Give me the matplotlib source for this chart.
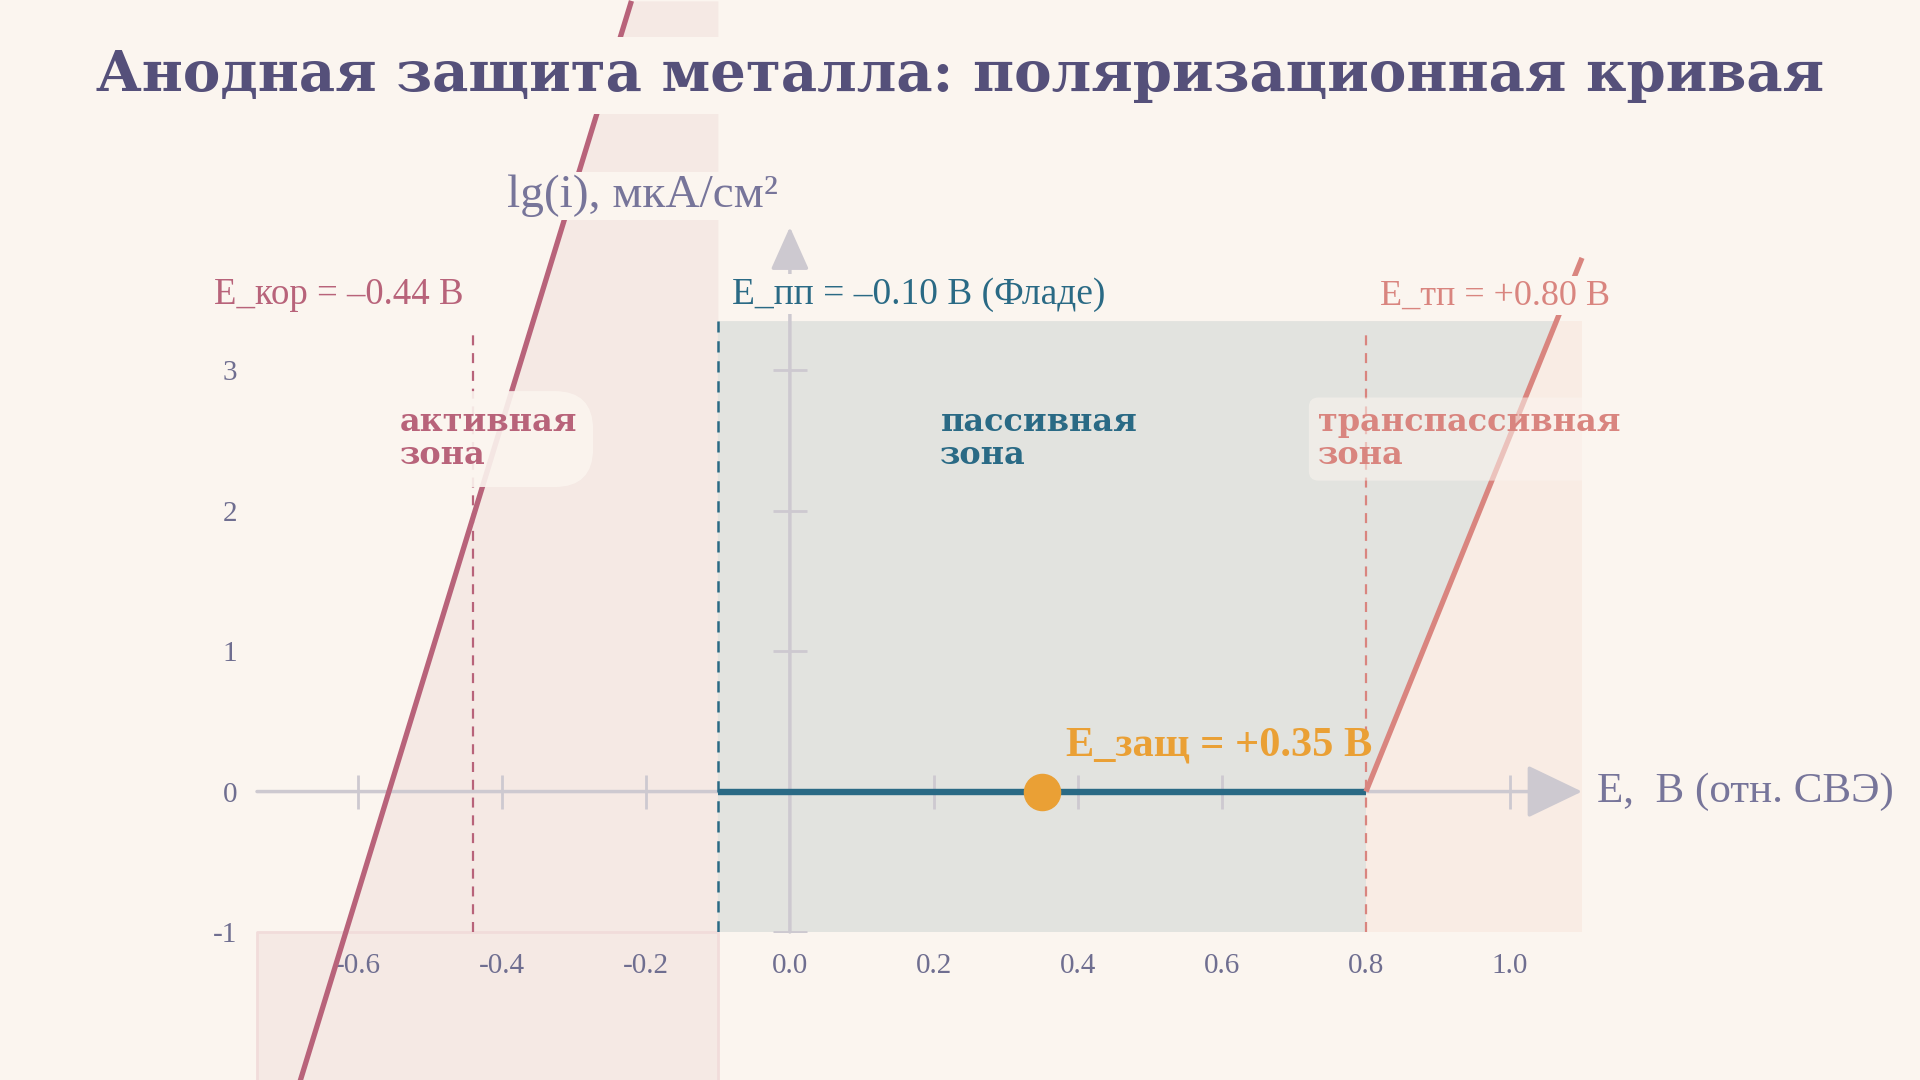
import numpy as np
import matplotlib
matplotlib.use("Agg")
import matplotlib.pyplot as plt

BG = "#fbf5ef"
TITLE_C = "#55507a"
AXIS_TXT = "#77759a"
TICK_TXT = "#6f6e90"
AXIS_LINE = "#cdc9d0"
ROSE = "#b8637a"
TEAL = "#2a6a85"
SALMON = "#d9857f"
ORANGE = "#eaa035"

# axis ranges (E in V, lg i)
x_min, x_max = -0.74, 1.10
y_min, y_max = -1.0, 4.02

x_ticks = [-0.6, -0.4, -0.2, 0.0, 0.2, 0.4, 0.6, 0.8, 1.0]
x_tick_labels = ["-0.6", "-0.4", "-0.2", "0.0", "0.2", "0.4", "0.6", "0.8", "1.0"]
y_ticks = [-1, 0, 1, 2, 3]
y_tick_labels = ["-1", "0", "1", "2", "3"]

# little cross marks on the drawn axes
axis_marks_x = [-0.6, -0.4, -0.2, 0.2, 0.4, 0.6, 1.0]
axis_marks_y = [-1, 1, 2, 3]

# key potentials
E_kor = -0.44
E_pp = -0.10
E_tp = 0.80
E_zash = 0.35

# polarization curve pieces
active_E = [-0.68, -0.22]
active_lg = [-2.06, 5.63]
passive_E = [-0.10, 0.80]
passive_lg = [0.0, 0.0]
transp_E = [0.80, 1.10]
transp_lg = [0.0, 3.80]

zone_top = 3.35
mark_top = 3.30

plt.rcParams["font.family"] = ["Liberation Serif", "DejaVu Serif"]

fig = plt.figure(figsize=(19.2, 10.8), dpi=100, facecolor=BG)
ax = fig.add_axes([257 / 1920, 148 / 1080, 1325 / 1920, 705 / 1080])
ax.set_facecolor("none")
ax.set_xlim(x_min, x_max)
ax.set_ylim(y_min, y_max)
for s in ax.spines.values():
    s.set_visible(False)

# zones
ax.fill_betweenx(active_lg, active_E, E_pp, color="#f5e9e4", lw=0, zorder=1, clip_on=False)
ax.fill_between([x_min, E_pp], active_lg[0], y_min, facecolor="#f5e9e4",
                edgecolor="#f1dcda", lw=2, zorder=1, clip_on=False)
ax.fill_between([E_tp, x_max], y_min, zone_top, color="#f9ece4", lw=0, zorder=1)
x_corner = np.interp(zone_top, transp_lg, transp_E)
ax.fill([E_pp, E_pp, x_corner, E_tp, E_tp], [y_min, zone_top, zone_top, 0, y_min],
        color="#e2e3df", lw=0, zorder=2)

# drawn axes with arrows
ax.annotate("", xy=(x_max, 0), xytext=(x_min, 0), annotation_clip=False, zorder=3,
            arrowprops=dict(arrowstyle="-|>,head_length=2.5,head_width=1.2",
                            mutation_scale=14, color=AXIS_LINE, lw=2.5, shrinkA=0, shrinkB=0))
ax.annotate("", xy=(0, y_max), xytext=(0, y_min), annotation_clip=False, zorder=3,
            arrowprops=dict(arrowstyle="-|>,head_length=1.9,head_width=0.85",
                            mutation_scale=14, color=AXIS_LINE, lw=2.5, shrinkA=0, shrinkB=0))
ax.plot(axis_marks_x, np.zeros(len(axis_marks_x)), ls="none", marker="|", ms=24,
        mew=2, color=AXIS_LINE, zorder=3)
ax.plot(np.zeros(len(axis_marks_y)), axis_marks_y, ls="none", marker="_", ms=24,
        mew=2, color=AXIS_LINE, zorder=3)

# boundary potentials
ax.plot([E_kor, E_kor], [y_min, mark_top], color=ROSE, lw=1.6, ls=(0, (4.5, 3.5)), zorder=4)
ax.plot([E_pp, E_pp], [y_min, zone_top], color=TEAL, lw=1.8, ls=(0, (4.5, 3.5)), zorder=4)
ax.plot([E_tp, E_tp], [y_min, mark_top], color=SALMON, lw=1.6, ls=(0, (4.5, 3.5)), zorder=4)

# curve
ax.plot(active_E, active_lg, color=ROSE, lw=3.8, zorder=5, clip_on=False, solid_capstyle="butt")
ax.plot(passive_E, passive_lg, color=TEAL, lw=4.6, zorder=5, solid_capstyle="butt")
ax.plot(transp_E, transp_lg, color=SALMON, lw=3.8, zorder=5, clip_on=False, solid_capstyle="butt")
ax.plot([E_zash], [0], marker="o", ms=26, color=ORANGE, zorder=6)

# ticks
ax.set_xticks(x_ticks, x_tick_labels)
ax.set_yticks(y_ticks, y_tick_labels)
ax.tick_params(length=0, labelsize=21, colors=TICK_TXT, pad=14)
ax.tick_params(axis="x", pad=15)

# labels
fig.text(0.5, 0.93, "Анодная защита металла: поляризационная кривая", ha="center", va="center",
         fontsize=40.5, fontweight="bold", family=["DejaVu Serif"], color=TITLE_C, zorder=10,
         bbox=dict(facecolor=BG, edgecolor="none", pad=8))
ax.text(-0.017, 4.24, "lg(i), мкА/см²", ha="right", va="center", fontsize=34, color=AXIS_TXT,
        zorder=10, bbox=dict(facecolor=BG, edgecolor="none", pad=2))
ax.text(1.121, 0.0, "E,  B (отн. СВЭ)", ha="left", va="center", fontsize=31, color=AXIS_TXT, zorder=10)

ax.text(-0.80, 3.54, "E_кор = –0.44 B", ha="left", va="center", fontsize=26.5, color=ROSE, zorder=10,
        bbox=dict(facecolor=BG, edgecolor="none", pad=2))
ax.text(-0.08, 3.54, "E_пп = –0.10 B (Фладе)", ha="left", va="center", fontsize=27, color=TEAL, zorder=10,
        bbox=dict(facecolor=BG, edgecolor="none", pad=2))
ax.text(0.82, 3.53, "E_тп = +0.80 B", ha="left", va="center", fontsize=26, color=SALMON, zorder=10,
        bbox=dict(facecolor=BG, edgecolor="none", pad=2))

zone_kw = dict(ha="left", va="center", fontsize=23, fontweight="bold", family=["DejaVu Serif"],
               linespacing=1.08, zorder=10)
ax.text(-0.542, 2.51, "активная\nзона", color=ROSE,
        bbox=dict(boxstyle="round,pad=0.5,rounding_size=1.2", facecolor=BG, edgecolor="none", alpha=0.9),
        **zone_kw)
ax.text(0.209, 2.51, "пассивная\nзона", color=TEAL, **zone_kw)
ax.text(0.734, 2.51, "транспассивная\nзона", color=SALMON,
        bbox=dict(boxstyle="round,pad=0.3", facecolor=BG, edgecolor="none", alpha=0.55),
        **zone_kw)
ax.text(0.383, 0.33, "E_защ = +0.35 B", ha="left", va="center", fontsize=30.5, fontweight="bold",
        color=ORANGE, zorder=10)

fig.savefig("out.png", dpi=100, facecolor=BG)
